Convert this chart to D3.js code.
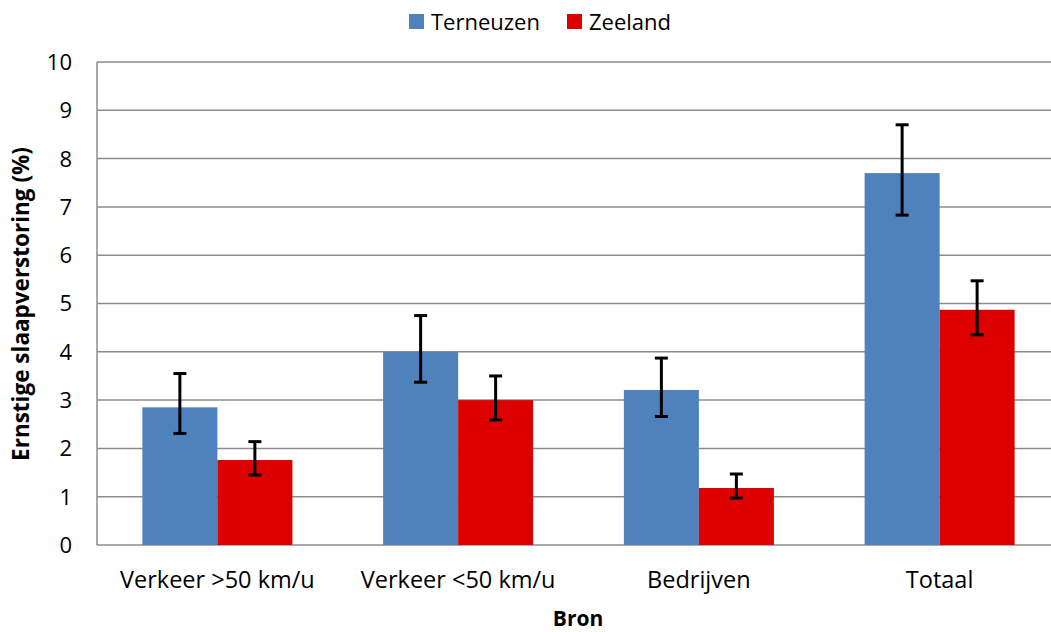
<!DOCTYPE html>
<html>
<head>
<meta charset="utf-8">
<script src="https://cdn.jsdelivr.net/npm/d3@7"></script>
<style>
  body { margin: 0; background: #fff; overflow: hidden; }
  text { font-family: "Open Sans", "Noto Sans", sans-serif; fill: #000; }
</style>
</head>
<body>
<script>
// data
var categories = ["Verkeer >50 km/u", "Verkeer <50 km/u", "Bedrijven", "Totaal"];
var seriesNames = ["Terneuzen", "Zeeland"];
var seriesColors = ["#4f81bd", "#dd0000"];
var terneuzen = [2.85, 4.0, 3.21, 7.7];
var terneuzenLow = [2.31, 3.37, 2.66, 6.83];
var terneuzenHigh = [3.55, 4.75, 3.87, 8.7];
var zeeland = [1.76, 3.0, 1.18, 4.87];
var zeelandLow = [1.45, 2.59, 0.97, 4.35];
var zeelandHigh = [2.14, 3.5, 1.47, 5.47];
var yTicks = [0, 1, 2, 3, 4, 5, 6, 7, 8, 9, 10];

var W = 1051, H = 632;
// plot area runs past the right edge of the picture, as in the original
var margin = { top: 62, right: -9, bottom: 87, left: 97 };
var width = W - margin.left - margin.right;
var height = H - margin.top - margin.bottom;

var svg = d3.select("body").append("svg")
    .attr("width", W)
    .attr("height", H);

var g = svg.append("g")
    .attr("transform", "translate(" + margin.left + "," + margin.top + ")");

var x = d3.scaleBand().domain(categories).range([0, width]).paddingInner(0).paddingOuter(0);
var y = d3.scaleLinear().domain([0, 10]).range([height, 0]);

var barW = 75;

// gridlines
g.selectAll(".grid")
    .data(yTicks)
    .enter()
    .append("line")
    .attr("x1", 0)
    .attr("x2", width)
    .attr("y1", function (d) { return y(d); })
    .attr("y2", function (d) { return y(d); })
    .attr("stroke", "#8c8c8c")
    .attr("stroke-width", 1.5);

// y axis line
g.append("line")
    .attr("x1", 0).attr("x2", 0)
    .attr("y1", 0).attr("y2", height)
    .attr("stroke", "#8c8c8c")
    .attr("stroke-width", 1.5);

// y tick labels
g.selectAll(".ylab")
    .data(yTicks)
    .enter()
    .append("text")
    .attr("x", -25)
    .attr("y", function (d) { return y(d); })
    .attr("dy", "0.36em")
    .attr("text-anchor", "end")
    .style("font-size", "22px")
    .text(function (d) { return d; });

var rows = categories.map(function (c, i) {
    return [
        { cat: c, s: 0, v: terneuzen[i], lo: terneuzenLow[i], hi: terneuzenHigh[i] },
        { cat: c, s: 1, v: zeeland[i], lo: zeelandLow[i], hi: zeelandHigh[i] }
    ];
});
var bars = [].concat.apply([], rows);

function barX(d) {
    return x(d.cat) + x.bandwidth() / 2 - barW + d.s * barW;
}

g.selectAll(".bar")
    .data(bars)
    .enter()
    .append("rect")
    .attr("class", "bar")
    .attr("x", barX)
    .attr("y", function (d) { return y(d.v); })
    .attr("width", barW)
    .attr("height", function (d) { return height - y(d.v); })
    .attr("fill", function (d) { return seriesColors[d.s]; });

// error bars
var err = g.selectAll(".err")
    .data(bars)
    .enter()
    .append("g")
    .attr("class", "err")
    .attr("transform", function (d) { return "translate(" + (barX(d) + barW / 2) + ",0)"; });

err.append("line")
    .attr("x1", 0).attr("x2", 0)
    .attr("y1", function (d) { return y(d.hi); })
    .attr("y2", function (d) { return y(d.lo); })
    .attr("stroke", "#000")
    .attr("stroke-width", 3);

err.append("line")
    .attr("x1", -6.5).attr("x2", 6.5)
    .attr("y1", function (d) { return y(d.hi); })
    .attr("y2", function (d) { return y(d.hi); })
    .attr("stroke", "#000")
    .attr("stroke-width", 3);

err.append("line")
    .attr("x1", -6.5).attr("x2", 6.5)
    .attr("y1", function (d) { return y(d.lo); })
    .attr("y2", function (d) { return y(d.lo); })
    .attr("stroke", "#000")
    .attr("stroke-width", 3);

// category labels
g.selectAll(".xlab")
    .data(categories)
    .enter()
    .append("text")
    .attr("x", function (d) { return x(d) + x.bandwidth() / 2; })
    .attr("y", height + 43)
    .attr("text-anchor", "middle")
    .style("font-size", "23.5px")
    .text(function (d) { return d; });

// axis titles
svg.append("text")
    .attr("x", 578)
    .attr("y", 626)
    .attr("text-anchor", "middle")
    .style("font-size", "21px")
    .style("font-weight", "bold")
    .text("Bron");

svg.append("text")
    .attr("transform", "translate(29,304) rotate(-90)")
    .attr("text-anchor", "middle")
    .style("font-size", "22.5px")
    .style("font-weight", "bold")
    .text("Ernstige slaapverstoring (%)");

// legend
var legendX = [409, 567];
var legend = svg.selectAll(".legend")
    .data(seriesNames)
    .enter()
    .append("g")
    .attr("transform", function (d, i) { return "translate(" + legendX[i] + ",14)"; });

legend.append("rect")
    .attr("width", 15)
    .attr("height", 15)
    .attr("fill", function (d, i) { return seriesColors[i]; });

legend.append("text")
    .attr("x", 22)
    .attr("y", 16)
    .style("font-size", "22px")
    .text(function (d) { return d; });
</script>
</body>
</html>
